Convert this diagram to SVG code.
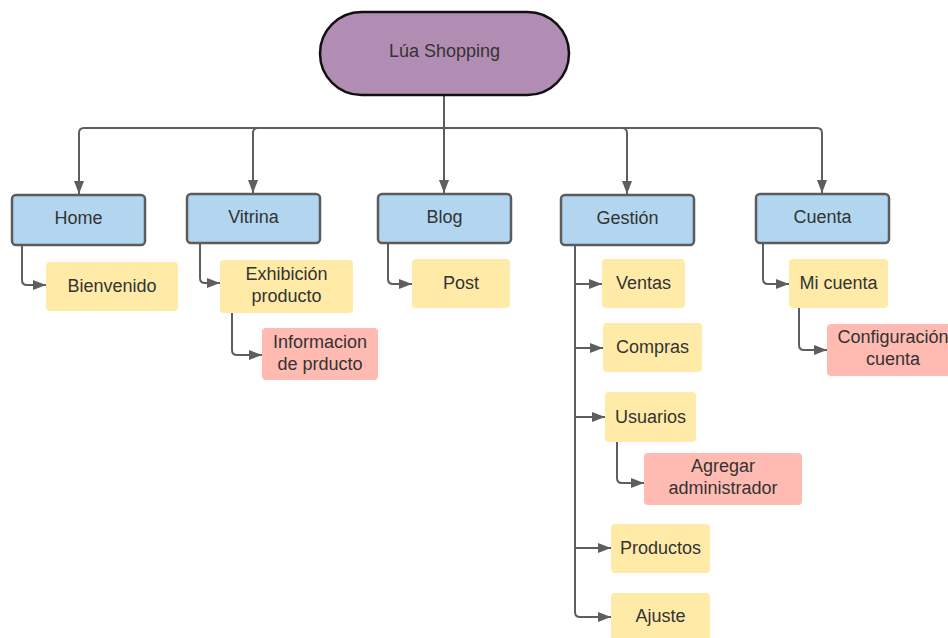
<svg xmlns="http://www.w3.org/2000/svg" width="948" height="638" viewBox="0 0 948 638">
<defs>
<style>
.t{font-family:"Liberation Sans",Arial,sans-serif;font-size:18px;fill:#333333;text-anchor:middle}
.main{fill:#b2d6f0;stroke:#5c5c5c;stroke-width:2.5}
.sub{fill:#ffeba7}
.leaf{fill:#ffbbb1}
.c{fill:none;stroke:#5e5e5e;stroke-width:2}
</style>
<marker id="ah" markerUnits="userSpaceOnUse" markerWidth="14" markerHeight="12" refX="13" refY="6" orient="auto">
<path d="M0,1 L13,6 L0,11 Z" fill="#5e5e5e"/>
</marker>
</defs>
<rect width="948" height="638" fill="#ffffff"/>
<g id="connectors">
<path class="c" d="M444,96 V193" marker-end="url(#ah)"/>
<path class="c" d="M444,128 H84 Q79,128 79,133 V194" marker-end="url(#ah)"/>
<path class="c" d="M444,128 H258 Q253,128 253,133 V193" marker-end="url(#ah)"/>
<path class="c" d="M444,128 H622 Q627,128 627,133 V194" marker-end="url(#ah)"/>
<path class="c" d="M444,128 H817 Q822,128 822,133 V193" marker-end="url(#ah)"/>
<path class="c" d="M22,246 V280 Q22,285 27,285 H46" marker-end="url(#ah)"/>
<path class="c" d="M200,244 V278 Q200,283 205,283 H220" marker-end="url(#ah)"/>
<path class="c" d="M388,244 V279 Q388,284 393,284 H412" marker-end="url(#ah)"/>
<path class="c" d="M232,313 V350 Q232,355 237,355 H262" marker-end="url(#ah)"/>
<path class="c" d="M575,246 V612 Q575,617 580,617 H611" marker-end="url(#ah)"/>
<path class="c" d="M575,284 H602" marker-end="url(#ah)"/>
<path class="c" d="M575,348 H603" marker-end="url(#ah)"/>
<path class="c" d="M575,417 H605" marker-end="url(#ah)"/>
<path class="c" d="M575,548 H611" marker-end="url(#ah)"/>
<path class="c" d="M617,442 V478 Q617,483 622,483 H644" marker-end="url(#ah)"/>
<path class="c" d="M763,244 V279 Q763,284 768,284 H789" marker-end="url(#ah)"/>
<path class="c" d="M799,308 V345 Q799,350 804,350 H827" marker-end="url(#ah)"/>
</g>
<g id="root">
<rect x="320" y="12" width="249" height="83" rx="41.5" fill="#b28db3" stroke="#111111" stroke-width="2.5"/>
<text class="t" x="444.5" y="57">Lúa Shopping</text>
</g>
<g id="home">
<rect class="main" x="12" y="195" width="133" height="50" rx="4"/>
<text class="t" x="78.5" y="224">Home</text>
</g>
<g id="vitrina">
<rect class="main" x="187" y="194" width="133" height="49" rx="4"/>
<text class="t" x="253.5" y="223">Vitrina</text>
</g>
<g id="blog">
<rect class="main" x="378" y="194" width="133" height="49" rx="4"/>
<text class="t" x="444.5" y="223">Blog</text>
</g>
<g id="gestion">
<rect class="main" x="561" y="195" width="133" height="50" rx="4"/>
<text class="t" x="627.5" y="224">Gestión</text>
</g>
<g id="cuenta">
<rect class="main" x="756" y="194" width="133" height="49" rx="4"/>
<text class="t" x="822.5" y="223">Cuenta</text>
</g>
<g id="bienvenido">
<rect class="sub" x="46" y="262" width="132" height="49" rx="4"/>
<text class="t" x="112" y="292">Bienvenido</text>
</g>
<g id="exhibicion">
<rect class="sub" x="220" y="260" width="133" height="53" rx="4"/>
<text class="t" x="286.5" y="280">Exhibición</text>
<text class="t" x="286.5" y="302">producto</text>
</g>
<g id="informacion">
<rect class="leaf" x="262" y="328" width="116" height="52" rx="4"/>
<text class="t" x="320" y="348">Informacion</text>
<text class="t" x="320" y="370">de prducto</text>
</g>
<g id="post">
<rect class="sub" x="412" y="259" width="98" height="49" rx="4"/>
<text class="t" x="461" y="289">Post</text>
</g>
<g id="ventas">
<rect class="sub" x="602" y="259" width="83" height="49" rx="4"/>
<text class="t" x="643.5" y="289">Ventas</text>
</g>
<g id="compras">
<rect class="sub" x="603" y="323" width="99" height="49" rx="4"/>
<text class="t" x="652.5" y="353">Compras</text>
</g>
<g id="usuarios">
<rect class="sub" x="605" y="392" width="91" height="50" rx="4"/>
<text class="t" x="650.5" y="423">Usuarios</text>
</g>
<g id="agregar">
<rect class="leaf" x="644" y="453" width="158" height="52" rx="4"/>
<text class="t" x="723" y="472">Agregar</text>
<text class="t" x="723" y="494">administrador</text>
</g>
<g id="productos">
<rect class="sub" x="611" y="524" width="99" height="49" rx="4"/>
<text class="t" x="660.5" y="554">Productos</text>
</g>
<g id="ajuste">
<rect class="sub" x="611" y="593" width="99" height="49" rx="4"/>
<text class="t" x="660.5" y="622">Ajuste</text>
</g>
<g id="micuenta">
<rect class="sub" x="789" y="259" width="99" height="49" rx="4"/>
<text class="t" x="838.5" y="289">Mi cuenta</text>
</g>
<g id="configuracion">
<rect class="leaf" x="827" y="324" width="132" height="52" rx="4"/>
<text class="t" x="893" y="343">Configuración</text>
<text class="t" x="893" y="365">cuenta</text>
</g>
</svg>
